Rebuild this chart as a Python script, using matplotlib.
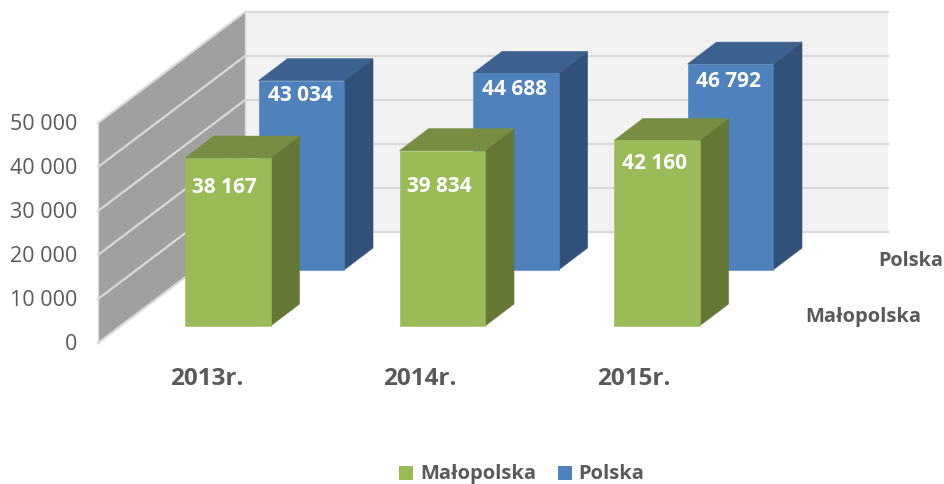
import matplotlib
matplotlib.use("Agg")
import matplotlib.pyplot as plt
from matplotlib.patches import Polygon, Rectangle

years = ["2013r.", "2014r.", "2015r."]
malopolska = [38167, 39834, 42160]
polska = [43034, 44688, 46792]
y_ticks = [0, 10000, 20000, 30000, 40000, 50000]
y_labels = ["0", "10 000", "20 000", "30 000", "40 000", "50 000"]
series_names = ["Małopolska", "Polska"]

plt.rcParams['font.family'] = ['Open Sans', 'DejaVu Sans']
W, H = 944, 484
fig = plt.figure(figsize=(W / 100, H / 100), dpi=100, facecolor="white")
ax = fig.add_axes([0, 0, 1, 1])
ax.set_xlim(0, W)
ax.set_ylim(H, 0)
ax.axis("off")

PX_PER_UNIT = 220 / 50000      # vertical scale
FRONT_X, BACK_X, RIGHT_X = 98, 245, 888
FRONT_Y0, BACK_Y0 = 343, 232
GRID = "#d9d9d9"


def h(v):
    return v * PX_PER_UNIT


# walls
top = max(y_ticks)
ax.add_patch(Polygon([(FRONT_X, FRONT_Y0), (BACK_X, BACK_Y0), (BACK_X, BACK_Y0 - h(top)),
                      (FRONT_X, FRONT_Y0 - h(top))], fc="#a0a0a0", ec="none", zorder=1))
ax.add_patch(Rectangle((BACK_X, BACK_Y0 - h(top)), RIGHT_X - BACK_X, h(top), fc="#f2f2f2", ec="none", zorder=1))
for t, lab in zip(y_ticks, y_labels):
    ax.plot([FRONT_X, BACK_X, RIGHT_X], [FRONT_Y0 - h(t), BACK_Y0 - h(t), BACK_Y0 - h(t)],
            color=GRID, lw=1.6, zorder=2, solid_joinstyle="miter")
    ax.text(77, FRONT_Y0 - h(t) + 2, lab, ha="right", va="center", fontsize=15.5, color="#595959")
ax.plot([BACK_X, BACK_X], [BACK_Y0, BACK_Y0 - h(top)], color=GRID, lw=1, zorder=2)
ax.plot([FRONT_X, FRONT_X], [FRONT_Y0, FRONT_Y0 - h(top)], color=GRID, lw=1, zorder=2)

BAR_W, DX, DY = 85.5, 29, 22
STEP = 214.5


def bar(x, base, val, front, side, topc, z):
    t = base - h(val)
    ax.add_patch(Polygon([(x + BAR_W, base), (x + BAR_W + DX, base - DY), (x + BAR_W + DX, t - DY), (x + BAR_W, t)],
                         fc=side, ec=side, lw=0.4, zorder=z))
    ax.add_patch(Polygon([(x, t), (x + DX, t - DY), (x + BAR_W + DX, t - DY), (x + BAR_W, t)],
                         fc=topc, ec=topc, lw=0.4, zorder=z))
    ax.add_patch(Rectangle((x, t), BAR_W, h(val), fc=front, ec=front, lw=0.4, zorder=z))
    return t


BLUE = ("#4f81bd", "#31517a", "#3c618e")
GREEN = ("#9bbb59", "#647735", "#768d43")
BLUE_LABEL_DX = [-1, -1.5, -2]
BLUE_LABEL_DY = [15, 16, 17]
GREEN_LABEL_DX = [-3, -3, -2]
GREEN_LABEL_DY = [29.5, 35.5, 23.5]
for i, p in enumerate(polska):
    x_b = 258.5 + STEP * i
    t = bar(x_b, 270, p, *BLUE, 3)
    ax.text(x_b + BAR_W / 2 + BLUE_LABEL_DX[i], t + BLUE_LABEL_DY[i], f"{p:,}".replace(",", " "),
            ha="center", va="center", fontsize=15, fontweight="bold", color="white", zorder=4)
for i, m in enumerate(malopolska):
    x_g = 185 + STEP * i
    t = bar(x_g, 326, m, *GREEN, 5)
    ax.text(x_g + BAR_W / 2 + GREEN_LABEL_DX[i], t + GREEN_LABEL_DY[i], f"{m:,}".replace(",", " "),
            ha="center", va="center", fontsize=15, fontweight="bold", color="white", zorder=6)
    ax.text(206.5 + 213.5 * i, 379, years[i], ha="center", va="center", fontsize=17.5,
            fontweight="bold", color="#595959")

# depth-axis labels
ax.text(943, 261, series_names[1], ha="right", va="center", fontsize=14.3, fontweight="bold", color="#595959")
ax.text(921, 317, series_names[0], ha="right", va="center", fontsize=14.5, fontweight="bold", color="#595959")

# legend
for sq_x, tx, name, c in [(399, 420, series_names[0], GREEN[0]), (558, 578, series_names[1], BLUE[0])]:
    ax.add_patch(Rectangle((sq_x, 466), 14, 14, fc=c, ec="none"))
    ax.text(tx, 474, name, ha="left", va="center", fontsize=14.5, fontweight="bold", color="#595959")

fig.savefig("out.png", dpi=100)
